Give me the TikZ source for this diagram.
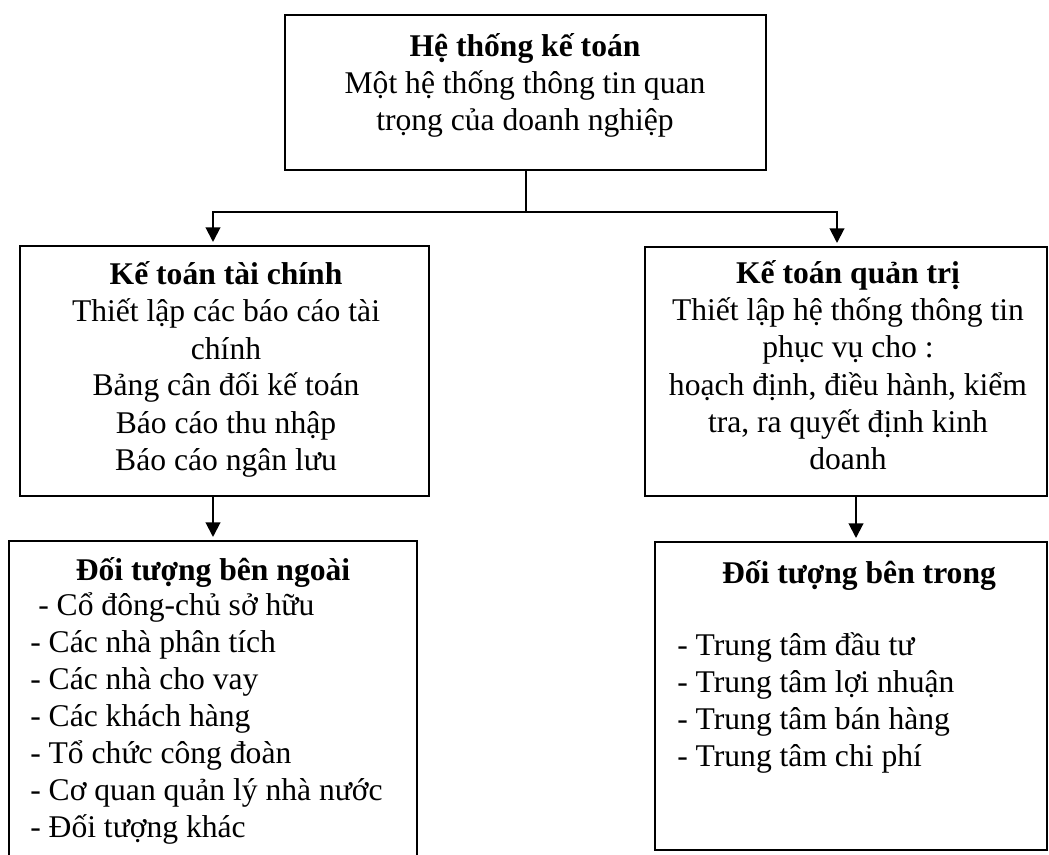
\documentclass[tikz,border=0pt]{standalone}
\usepackage{fontspec}
\setmainfont{Liberation Serif}
\usetikzlibrary{arrows.meta,fit}
\tikzset{
  box/.style={draw, line width=1.5pt, inner sep=0pt},
  txt/.style={inner sep=0pt, font=\fontsize{23.7}{27.75}\selectfont},
  ttl/.style={inner sep=0pt, font=\fontsize{23.7}{27.75}\selectfont\bfseries},
  link/.style={line width=1.5pt},
  arr/.style={link, -{Triangle[width=11pt,length=11pt]}, shorten >=2.25pt},
}
\begin{document}
\begin{tikzpicture}[x=0.75pt,y=-0.75pt]
\clip (0,0) rectangle (1049,855);
\fill[white] (0,0) rectangle (1049,855);

% boxes
\node[box, fit={(285,15) (766,170)}] (top) {};
\node[box, fit={(20,246) (429,496)}] (fin) {};
\node[box, fit={(645,247) (1047,496)}] (mgt) {};
\node[box, fit={(9,541) (417,880)}] (ext) {};
\node[box, fit={(655,542) (1047,850)}] (int) {};

% connectors
\coordinate (busL) at (213,212);
\coordinate (busR) at (837,212);
\coordinate (dropR) at (856,0);
\draw[link] (top.south) -- (top.south |- busL);
\draw[arr] (busL -| top.south) -- (busL) -- (busL |- fin.north);
\draw[arr] (busL -| top.south) -- (busR) -- (busR |- mgt.north);
\draw[arr] (fin.south -| busL) -- (ext.north -| busL);
\draw[arr] (mgt.south -| dropR) -- (int.north -| dropR);

% top box text
\node[ttl, anchor=base] (top-t) at (525,57) {Hệ thống kế toán};
\node[txt, anchor=base] (top-1) at (525,94) {Một hệ thống thông tin quan};
\node[txt, anchor=base] (top-2) at (525,131) {trọng của doanh nghiệp};

% financial accounting
\node[ttl, anchor=base] (fin-t) at (226,285) {Kế toán tài chính};
\foreach \s [count=\i from 0] in {Thiết lập các báo cáo tài, chính,
    Bảng cân đối kế toán, Báo cáo thu nhập, Báo cáo ngân lưu}
  \node[txt, anchor=base] (fin-\i) at (226,{322+37*\i}) {\s};

% management accounting
\node[ttl, anchor=base] (mgt-t) at (848,284) {Kế toán quản trị};
\foreach \s [count=\i from 0] in {Thiết lập hệ thống thông tin, phục vụ cho :,
    {hoạch định, điều hành, kiểm}, {tra, ra quyết định kinh}, doanh}
  \node[txt, anchor=base] (mgt-\i) at (848,{321+37*\i}) {\s};

% external users
\node[ttl, anchor=base] (ext-t) at (213,580) {Đối tượng bên ngoài};
\node[txt, anchor=base west] (ext-0) at (38,615) {- Cổ đông-chủ sở hữu};
\foreach \s [count=\i from 1] in {Các nhà phân tích, Các nhà cho vay,
    Các khách hàng, Tổ chức công đoàn, Cơ quan quản lý nhà nước, Đối tượng khác}
  \node[txt, anchor=base west] (ext-\i) at (30,{615+37*\i}) {- \s};

% internal users
\node[ttl, anchor=base] (int-t) at (859,583) {Đối tượng bên trong};
\foreach \s [count=\i from 0] in {Trung tâm đầu tư, Trung tâm lợi nhuận,
    Trung tâm bán hàng, Trung tâm chi phí}
  \node[txt, anchor=base west] (int-\i) at (677,{655+37*\i}) {- \s};
\end{tikzpicture}
\end{document}
